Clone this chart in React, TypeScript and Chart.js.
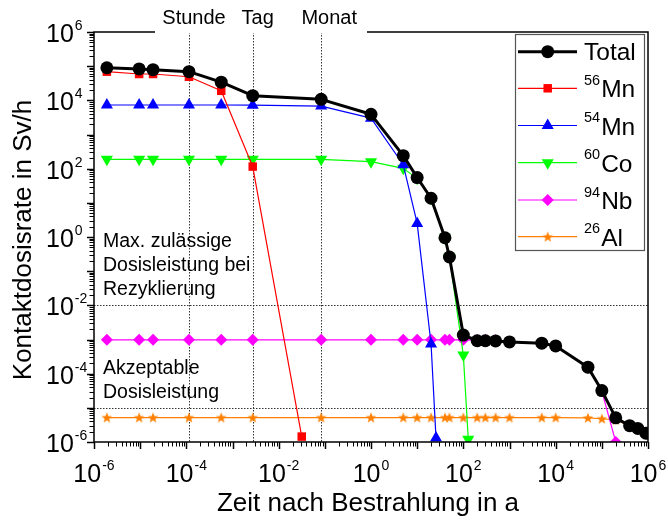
import React, { useEffect, useRef } from 'react';
import { Chart, registerables } from 'chart.js';
import { drawPoint } from 'chart.js/helpers';
Chart.register(...registerables);

// ---- data (time in years, dose rate in Sv/h) ----
const totalX = [1.9e-6, 9.5e-6, 1.9e-5, 1.14e-4, 5.7e-4, 2.74e-3, 0.0833, 1, 5, 10, 20, 40, 50, 100, 200, 300, 500, 1000, 5000, 1e4, 5e4, 1e5, 2e5, 4e5, 6e5, 9e5];
const totalY = [9e4, 8.3e4, 7.9e4, 6.9e4, 3.4e4, 1.37e4, 1.07e4, 3.9e3, 240, 55, 13.6, 0.95, 0.26, 1.35e-3, 9.2e-4, 9.2e-4, 9.1e-4, 8.5e-4, 7.8e-4, 6.5e-4, 1.55e-4, 3.2e-5, 5.1e-6, 3.0e-6, 2.5e-6, 1.8e-6];

const mn56X = [1.9e-6, 9.5e-6, 1.9e-5, 1.14e-4, 5.7e-4, 2.74e-3, 0.0316];
const mn56Y = [6.9e4, 5.9e4, 5.9e4, 4.9e4, 1.9e4, 115, 1.44e-6];

const mn54X = [1.9e-6, 9.5e-6, 1.9e-5, 1.14e-4, 5.7e-4, 2.74e-3, 0.0833, 1, 5, 10, 20, 25.6];
const mn54Y = [7.3e3, 7.3e3, 7.3e3, 7.3e3, 7.3e3, 7.2e3, 6.8e3, 3.0e3, 130, 2.5, 7.4e-4, 1.3e-6];

const co60X = [1.9e-6, 9.5e-6, 1.9e-5, 1.14e-4, 5.7e-4, 2.74e-3, 0.0833, 1, 5, 10, 20, 40, 50, 100, 128];
const co60Y = [188, 188, 188, 188, 188, 188, 188, 160, 102, 52, 13.5, 0.93, 0.26, 3.5e-4, 1.2e-6];

const nb94X = [1.9e-6, 9.5e-6, 1.9e-5, 1.14e-4, 5.7e-4, 2.74e-3, 0.0833, 1, 5, 10, 20, 40, 50, 100, 200, 300, 500, 1000, 5000, 1e4, 5e4, 1e5, 2e5];
const nb94Y = [9.8e-4, 9.8e-4, 9.8e-4, 9.8e-4, 9.8e-4, 9.8e-4, 9.8e-4, 9.8e-4, 9.8e-4, 9.8e-4, 9.8e-4, 9.8e-4, 9.8e-4, 9.8e-4, 9.6e-4, 9.6e-4, 9.5e-4, 8.5e-4, 7.8e-4, 6.4e-4, 1.5e-4, 3.1e-5, 1e-6];

const al26X = [1.9e-6, 9.5e-6, 1.9e-5, 1.14e-4, 5.7e-4, 2.74e-3, 0.0833, 1, 5, 10, 20, 40, 50, 100, 200, 300, 500, 1000, 5000, 1e4, 5e4, 1e5, 2e5, 4e5, 6e5, 9e5];
const al26Y = [5.2e-6, 5.2e-6, 5.2e-6, 5.2e-6, 5.2e-6, 5.2e-6, 5.2e-6, 5.2e-6, 5.2e-6, 5.2e-6, 5.2e-6, 5.2e-6, 5.2e-6, 5.2e-6, 5.2e-6, 5.2e-6, 5.2e-6, 5.2e-6, 5.2e-6, 5.2e-6, 5.1e-6, 4.8e-6, 4.4e-6, 3.0e-6, 2.5e-6, 1.8e-6];

const legendSup = ['', '56', '54', '60', '94', '26'];
const legendBase = ['Total', 'Mn', 'Mn', 'Co', 'Nb', 'Al'];

const xTickExps = [-6, -4, -2, 0, 2, 4, 6];
const yTickExps = [6, 4, 2, 0, -2, -4, -6];
const topMarkLabels = ['Stunde', 'Tag', 'Monat'];
const topMarkX = [1 / 8760, 1 / 365, 1 / 12];
const limitLines = [1e-2, 1e-5];
const noteMax = ['Max. zulässige', 'Dosisleistung bei', 'Rezyklierung'];
const noteAcc = ['Akzeptable', 'Dosisleistung'];
const xTitle = 'Zeit nach Bestrahlung in a';
const yTitle = 'Kontaktdosisrate in Sv/h';

const FONT = '"Liberation Sans", Arial, sans-serif';

function makeStar(color: string, R: number) {
  const size = Math.ceil(2 * R + 2);
  const c = document.createElement('canvas');
  c.width = size; c.height = size;
  const g = c.getContext('2d')!;
  const cx = size / 2, cy = size / 2 + R * 0.08;
  g.beginPath();
  for (let i = 0; i < 10; i++) {
    const r = i % 2 === 0 ? R : R * 0.42;
    const a = -Math.PI / 2 + (i * Math.PI) / 5;
    const px = cx + r * Math.cos(a), py = cy + r * Math.sin(a);
    if (i === 0) g.moveTo(px, py); else g.lineTo(px, py);
  }
  g.closePath();
  g.fillStyle = color;
  g.fill();
  return c;
}

function line(ctx: CanvasRenderingContext2D, x1: number, y1: number, x2: number, y2: number) {
  ctx.beginPath(); ctx.moveTo(x1, y1); ctx.lineTo(x2, y2); ctx.stroke();
}

function powWidth(ctx: CanvasRenderingContext2D, exp: number, big: number, small: number) {
  ctx.font = `${big}px ${FONT}`;
  const w1 = ctx.measureText('10').width;
  ctx.font = `${small}px ${FONT}`;
  const w2 = ctx.measureText(String(exp)).width;
  return [w1, w2];
}

function drawPow(ctx: CanvasRenderingContext2D, exp: number, x: number, base: number, big: number, small: number) {
  const [w1] = powWidth(ctx, exp, big, small);
  ctx.textAlign = 'left';
  ctx.textBaseline = 'alphabetic';
  ctx.font = `${big}px ${FONT}`;
  ctx.fillText('10', x, base);
  ctx.font = `${small}px ${FONT}`;
  ctx.fillText(String(exp), x + w1 + 1, base - 12);
}

export default function App() {
  const ref = useRef<HTMLCanvasElement>(null);
  useEffect(() => {
    const star = makeStar('#FF8000', 5.6);
    const styles = [
      { color: '#000000', style: 'circle' as any, r: 6.5, rot: 0, w: 3 },
      { color: '#FF0000', style: 'rect' as any, r: 6, rot: 0, w: 1.2 },
      { color: '#0000FF', style: 'triangle' as any, r: 7, rot: 0, w: 1.2 },
      { color: '#00FF00', style: 'triangle' as any, r: 7, rot: 180, w: 1.2 },
      { color: '#FF00FF', style: 'rectRot' as any, r: 6, rot: 0, w: 1.2 },
      { color: '#FF8000', style: star as any, r: 5.6, rot: 0, w: 1.2 },
    ];
    const xs = [totalX, mn56X, mn54X, co60X, nb94X, al26X];
    const ys = [totalY, mn56Y, mn54Y, co60Y, nb94Y, al26Y];
    const datasets = styles.map((s, i) => ({
      label: legendBase[i],
      data: xs[i].map((x, j) => ({ x, y: ys[i][j] })),
      borderColor: s.color,
      backgroundColor: s.color,
      borderWidth: s.w,
      pointStyle: s.style,
      pointRadius: s.r,
      pointRotation: s.rot,
      pointBorderWidth: 0,
      pointBackgroundColor: s.color,
      pointHoverRadius: s.r,
      tension: 0,
      borderJoinStyle: 'round' as const,
    }));

    const decor = {
      id: 'decor',
      beforeDatasetsDraw(chart: any) {
        const { ctx, chartArea: a, scales: { x, y } } = chart;
        ctx.save();
        ctx.strokeStyle = '#333';
        ctx.lineWidth = 1;
        ctx.setLineDash([1.5, 1.5]);
        for (const v of limitLines) {
          const py = Math.round(y.getPixelForValue(v)) + 0.5;
          line(ctx, a.left, py, a.right, py);
        }
        for (const v of topMarkX) {
          const px = Math.round(x.getPixelForValue(v)) + 0.5;
          line(ctx, px, a.top, px, a.bottom);
        }
        ctx.restore();
      },
      afterDraw(chart: any) {
        const { ctx, chartArea: a, scales: { x, y } } = chart;
        ctx.save();
        ctx.fillStyle = '#000';
        ctx.strokeStyle = '#000';
        // ticks
        for (let e = -6; e <= 6; e++) {
          for (let m = 1; m <= 9; m++) {
            if (e === 6 && m > 1) break;
            const v = m * Math.pow(10, e);
            const major = m === 1;
            ctx.lineWidth = major ? 1.5 : 1;
            const len = major ? 7 : 4.5;
            const px = Math.round(x.getPixelForValue(v)) + 0.5;
            line(ctx, px, a.bottom, px, a.bottom + len);
            const py = Math.round(y.getPixelForValue(v)) + 0.5;
            line(ctx, a.left - len, py, a.left, py);
          }
        }
        // border
        ctx.lineWidth = 1.5;
        ctx.strokeRect(a.left, a.top, a.right - a.left, a.bottom - a.top);
        // white box for top labels
        ctx.fillStyle = '#fff';
        ctx.fillRect(155, 0, 212, a.top + 1);
        ctx.fillStyle = '#000';
        ctx.font = `20px ${FONT}`;
        ctx.textAlign = 'center';
        ctx.textBaseline = 'alphabetic';
        const offs = [5, 5, 8];
        topMarkLabels.forEach((t, i) => {
          ctx.fillText(t, x.getPixelForValue(topMarkX[i]) + offs[i], 24);
        });
        // y tick labels
        for (const e of yTickExps) {
          const py = y.getPixelForValue(Math.pow(10, e));
          drawPow(ctx, e, 46, py + 10, 25, 14);
        }
        // x tick labels
        for (const e of xTickExps) {
          const px = x.getPixelForValue(Math.pow(10, e));
          const [w1, w2] = powWidth(ctx, e, 25, 14);
          drawPow(ctx, e, px - (w1 + w2 + 1) / 2, 482, 25, 14);
        }
        // axis titles
        ctx.font = `26px ${FONT}`;
        ctx.textAlign = 'center';
        ctx.textBaseline = 'alphabetic';
        ctx.fillText(xTitle, 368, 511);
        ctx.save();
        ctx.translate(31, (a.top + a.bottom) / 2 + 3);
        ctx.rotate(-Math.PI / 2);
        ctx.fillText(yTitle, 0, 0);
        ctx.restore();
        // notes
        ctx.font = `19.5px ${FONT}`;
        ctx.textAlign = 'left';
        const nb = [247, 271, 294.5];
        noteMax.forEach((t, i) => ctx.fillText(t, 103, nb[i]));
        const ab = [374, 398];
        noteAcc.forEach((t, i) => ctx.fillText(t, 103, ab[i]));
        // legend
        const L = { x: 515.5, y: 34.5, w: 129, h: 216 };
        ctx.fillStyle = '#fff';
        ctx.fillRect(L.x, L.y, L.w, L.h);
        ctx.strokeStyle = '#555';
        ctx.lineWidth = 1.2;
        ctx.strokeRect(L.x, L.y, L.w, L.h);
        const rowY = [51.7, 88.3, 125.5, 162.7, 200, 236.7];
        styles.forEach((s, i) => {
          const cy = rowY[i];
          ctx.strokeStyle = s.color;
          ctx.lineWidth = s.w;
          line(ctx, 518, cy, 577, cy);
          ctx.fillStyle = s.color;
          drawPoint(ctx, { pointStyle: s.style, radius: s.r, rotation: s.rot, borderWidth: 0 } as any, 547.7, cy);
          ctx.fillStyle = '#000';
          ctx.textAlign = 'left';
          if (legendSup[i]) {
            ctx.font = `14.5px ${FONT}`;
            ctx.fillText(legendSup[i], 584, cy - 3.5);
            const w = ctx.measureText(legendSup[i]).width;
            ctx.font = `24.5px ${FONT}`;
            ctx.fillText(legendBase[i], 584 + w + 1, cy + 9);
          } else {
            ctx.font = `24.5px ${FONT}`;
            ctx.fillText(legendBase[i], 584, cy + 8.5);
          }
        });
        ctx.restore();
      },
    };

    const chart = new Chart(ref.current!, {
      type: 'line',
      data: { datasets },
      options: {
        animation: false,
        responsive: false,
        devicePixelRatio: 1,
        events: [],
        parsing: false as any,
        layout: { padding: { left: 94, right: 20, top: 32, bottom: 78 } },
        plugins: { legend: { display: false }, tooltip: { enabled: false } },
        scales: {
          x: { type: 'logarithmic', min: 1e-6, max: 1e6, display: false },
          y: { type: 'logarithmic', min: 1e-6, max: 1e6, display: false },
        },
      },
      plugins: [decor],
    } as any);
    return () => chart.destroy();
  }, []);
  return (
    <div style={{ position: 'fixed', left: 0, top: 0, width: 668, height: 520, background: '#fff' }}>
      <canvas ref={ref} width={668} height={520} />
    </div>
  );
}
